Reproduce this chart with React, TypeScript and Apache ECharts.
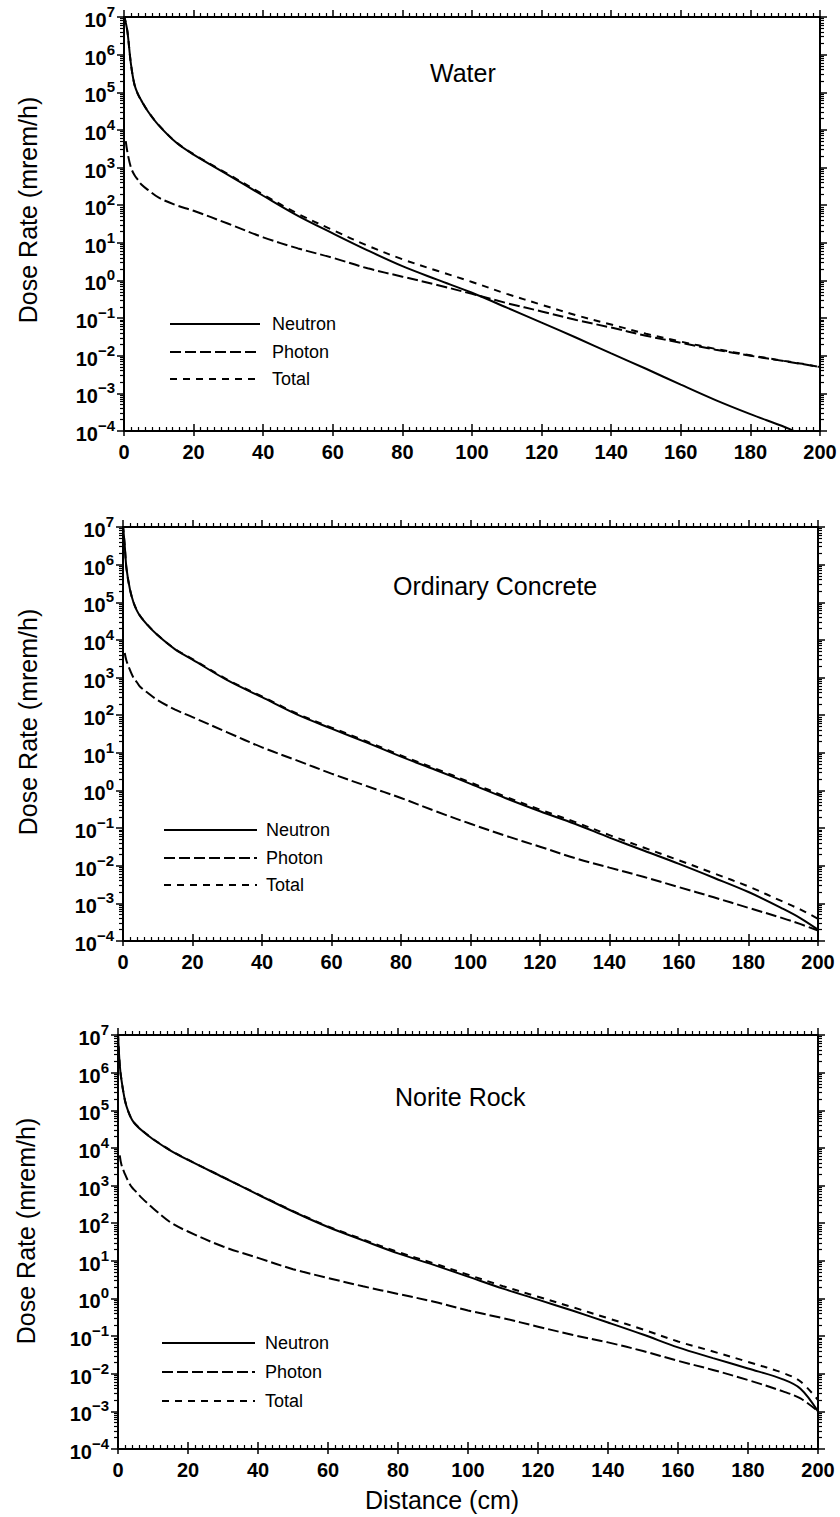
import React, { useEffect, useRef } from "react";
import * as echarts from "echarts";

// ---------- data ----------
const distance = [0, 0.5, 1, 2, 3, 4, 5, 7, 10, 15, 20, 30, 40, 50, 60, 70, 80, 90, 100, 110, 120, 130, 140, 150, 160, 170, 180, 190, 195, 200];

const waterNeutron = [1.1e7, 7.1e6, 4.0e6, 5.6e5, 1.6e5, 8.9e4, 6.0e4, 3.0e4, 1.32e4, 4.6e3, 2.2e3, 630, 178, 52, 17.8, 6.3, 2.4, 1.05, 0.47, 0.19, 0.076, 0.03, 0.0115, 0.0045, 0.0017, 6.6e-4, 2.8e-4, 1.26e-4, 7.9e-5, 5.2e-5];
const waterPhoton = [null, 5.0e3, 2.5e3, 1.0e3, 630, 470, 355, 250, 158, 100, 71, 32, 14, 7.1, 4.0, 2.1, 1.26, 0.76, 0.44, 0.25, 0.15, 0.089, 0.056, 0.034, 0.022, 0.0145, 0.01, 0.0071, 0.006, 0.005];
const waterTotal = [1.1e7, 7.1e6, 4.0e6, 5.6e5, 1.61e5, 8.9e4, 6.0e4, 3.03e4, 1.34e4, 4.7e3, 2.27e3, 662, 192, 59, 21.8, 8.4, 3.66, 1.81, 0.91, 0.44, 0.226, 0.119, 0.0675, 0.0385, 0.0237, 0.0152, 0.0103, 0.0072, 0.0061, 0.005];

const concreteNeutron = [1.1e7, 3.2e6, 7.9e5, 2.2e5, 1.0e5, 6.0e4, 4.2e4, 2.5e4, 1.32e4, 5.6e3, 3.0e3, 850, 300, 105, 44, 19, 7.9, 3.5, 1.5, 0.63, 0.28, 0.13, 0.056, 0.025, 0.0112, 0.0048, 0.002, 7.1e-4, 4.0e-4, 2.0e-4];
const concretePhoton = [null, 4.5e3, 2.8e3, 1.6e3, 1.0e3, 750, 560, 400, 250, 141, 89, 35, 14, 6.3, 2.8, 1.32, 0.63, 0.28, 0.13, 0.063, 0.032, 0.016, 0.0089, 0.005, 0.0027, 0.00145, 7.6e-4, 4.0e-4, 2.8e-4, 1.9e-4];
const concreteTotal = [1.1e7, 3.2e6, 7.9e5, 2.2e5, 1.01e5, 6.08e4, 4.26e4, 2.54e4, 1.345e4, 5.74e3, 3.09e3, 885, 314, 111, 46.8, 20.3, 8.5, 3.78, 1.63, 0.69, 0.31, 0.146, 0.065, 0.03, 0.0139, 0.0063, 0.0028, 0.0011, 6.8e-4, 3.9e-4];

const noriteNeutron = [1.1e7, 1.6e6, 6.3e5, 1.8e5, 8.9e4, 5.6e4, 4.2e4, 2.8e4, 1.7e4, 8.5e3, 4.8e3, 1.66e3, 575, 204, 79, 35, 15.8, 7.9, 3.8, 1.82, 0.93, 0.47, 0.23, 0.11, 0.05, 0.026, 0.0138, 0.0071, 0.004, 0.001];
const noritePhoton = [null, 6.3e3, 3.5e3, 2.0e3, 1.26e3, 890, 710, 450, 250, 105, 60, 24, 12, 6.0, 3.5, 2.1, 1.32, 0.83, 0.48, 0.3, 0.178, 0.107, 0.068, 0.04, 0.022, 0.0126, 0.0068, 0.0034, 0.0022, 0.001];
const noriteTotal = [1.1e7, 1.61e6, 6.3e5, 1.82e5, 9.0e4, 5.7e4, 4.27e4, 2.85e4, 1.73e4, 8.6e3, 4.86e3, 1.68e3, 587, 210, 82.5, 37.1, 17.1, 8.7, 4.28, 2.12, 1.11, 0.58, 0.298, 0.15, 0.072, 0.039, 0.0206, 0.0105, 0.0062, 0.002];

const panelTitles = ["Water", "Ordinary Concrete", "Norite Rock"];
const seriesNames = ["Neutron", "Photon", "Total"];
const xTicks = { min: 0, max: 200, interval: 20 };
const yRange = { min: 1e-4, max: 1e7 };

// ---------- layout / style ----------
const FONT = "'Liberation Sans', Arial, Helvetica, sans-serif";
const grids = [
  { left: 124, top: 17, width: 696, height: 414 },
  { left: 123, top: 527, width: 695, height: 414 },
  { left: 118, top: 1035, width: 700, height: 414 },
];
const titlePos = [
  { x: 430, y: 73 },
  { x: 393, y: 586 },
  { x: 395, y: 1097 },
];
const legendPos = [
  { x1: 170, x2: 260, tx: 272, ys: [324, 352, 379] },
  { x1: 164, x2: 257, tx: 266, ys: [830, 858, 885] },
  { x1: 162, x2: 255, tx: 265, ys: [1343, 1372, 1401] },
];
const yNamePos = [{ x: 28, y: 210 }, { x: 28, y: 722 }, { x: 26, y: 1231 }];
const dashes: any[] = ["solid", [11, 4], [7, 6]];

const panelData = [
  [waterNeutron, waterPhoton, waterTotal],
  [concreteNeutron, concretePhoton, concreteTotal],
  [noriteNeutron, noritePhoton, noriteTotal],
];

function pairs(arr: (number | null)[]) {
  const out: number[][] = [];
  distance.forEach((d, k) => {
    const v = arr[k];
    if (v != null) out.push([d, v]);
  });
  return out;
}

function yLabel(v: number) {
  const e = Math.round(Math.log10(v));
  const s = e < 0 ? "\u2212" + -e : String(e);
  return "{n|10}{s|" + s + "}";
}

export default function App() {
  const ref = useRef<HTMLDivElement>(null);
  useEffect(() => {
    document.body.style.margin = "0";
    const chart = echarts.init(ref.current!, null, { renderer: "svg" });
    const black = "#000";
    const xAxis: any[] = [];
    const yAxis: any[] = [];
    const series: any[] = [];
    const graphic: any[] = [];

    grids.forEach((g, i) => {
      xAxis.push({
        gridIndex: i, type: "value", ...xTicks, position: "bottom",
        axisLine: { show: true, onZero: false, lineStyle: { color: black, width: 2 } },
        axisTick: { show: true, inside: false, length: 5, lineStyle: { color: black, width: 1.5 } },
        minorTick: { show: false },
        splitLine: { show: false },
        axisLabel: { show: true, margin: 11, color: black, fontSize: 20, fontFamily: FONT, fontWeight: "bold" },
      });
      xAxis.push({
        gridIndex: i, type: "value", ...xTicks, position: "bottom",
        axisLine: { show: false },
        axisTick: { show: true, inside: true, length: 7, lineStyle: { color: black, width: 1.5 } },
        minorTick: { show: true, splitNumber: 10, length: 4, lineStyle: { color: black, width: 1.2 } },
        splitLine: { show: false },
        axisLabel: { show: false },
      });
      xAxis.push({
        gridIndex: i, type: "value", ...xTicks, position: "top",
        axisLine: { show: true, onZero: false, lineStyle: { color: black, width: 2 } },
        axisTick: { show: true, inside: false, length: 7, lineStyle: { color: black, width: 1.5 } },
        minorTick: { show: true, splitNumber: 10, length: 4, lineStyle: { color: black, width: 1.2 } },
        splitLine: { show: false },
        axisLabel: { show: false },
      });
      const yBase = {
        gridIndex: i, type: "log", logBase: 10, ...yRange, splitNumber: 11, interval: 1,
        axisLine: { show: true, onZero: false, lineStyle: { color: black, width: 2 } },
        axisTick: { show: true, inside: false, length: 7, lineStyle: { color: black, width: 1.5 } },
        minorTick: { show: true, splitNumber: 9, length: 4, lineStyle: { color: black, width: 1.2 } },
        splitLine: { show: false },
        minorSplitLine: { show: false },
      };
      yAxis.push({
        ...yBase, position: "left",
        axisLabel: {
          show: true, margin: 9, formatter: yLabel, color: black, interval: 0,
          rich: {
            n: { fontSize: 20, lineHeight: 26, verticalAlign: "bottom", fontFamily: FONT, fontWeight: "bold", color: black },
            s: { fontSize: 15, lineHeight: 16, verticalAlign: "top", fontFamily: FONT, fontWeight: "bold", color: black },
          },
        },
      });
      yAxis.push({ ...yBase, position: "right", axisLabel: { show: false } });

      panelData[i].forEach((arr, j) => {
        series.push({
          name: seriesNames[j] + " " + panelTitles[i],
          type: "line", xAxisIndex: 3 * i, yAxisIndex: 2 * i,
          data: pairs(arr), showSymbol: false, symbol: "none",
          smooth: 0.35, clip: true, silent: true,
          lineStyle: { color: black, width: 2, type: dashes[j] },
        });
      });

      graphic.push({
        type: "text", x: titlePos[i].x, y: titlePos[i].y,
        style: { text: panelTitles[i], font: `25px ${FONT}`, fill: black, align: "left", verticalAlign: "middle" },
      });
      const lp = legendPos[i];
      seriesNames.forEach((nm, j) => {
        graphic.push({
          type: "line",
          shape: { x1: lp.x1, y1: lp.ys[j], x2: lp.x2, y2: lp.ys[j] },
          style: { stroke: black, lineWidth: 2, lineDash: j === 0 ? null : dashes[j] },
        });
        graphic.push({
          type: "text", x: lp.tx, y: lp.ys[j],
          style: { text: nm, font: `18px ${FONT}`, fill: black, align: "left", verticalAlign: "middle" },
        });
      });
      graphic.push({
        type: "text", x: yNamePos[i].x, y: yNamePos[i].y, rotation: Math.PI / 2,
        style: { text: "Dose Rate (mrem/h)", font: `25px ${FONT}`, fill: black, align: "center", verticalAlign: "middle" },
      });
    });
    graphic.push({
      type: "text", x: 442, y: 1500,
      style: { text: "Distance (cm)", font: `25px ${FONT}`, fill: black, align: "center", verticalAlign: "middle" },
    });

    chart.setOption({
      animation: false,
      backgroundColor: "#fff",
      grid: grids.map((g) => ({ ...g, containLabel: false })),
      xAxis, yAxis, series, graphic,
    });
    return () => chart.dispose();
  }, []);
  return <div ref={ref} style={{ width: 840, height: 1517 }} />;
}
